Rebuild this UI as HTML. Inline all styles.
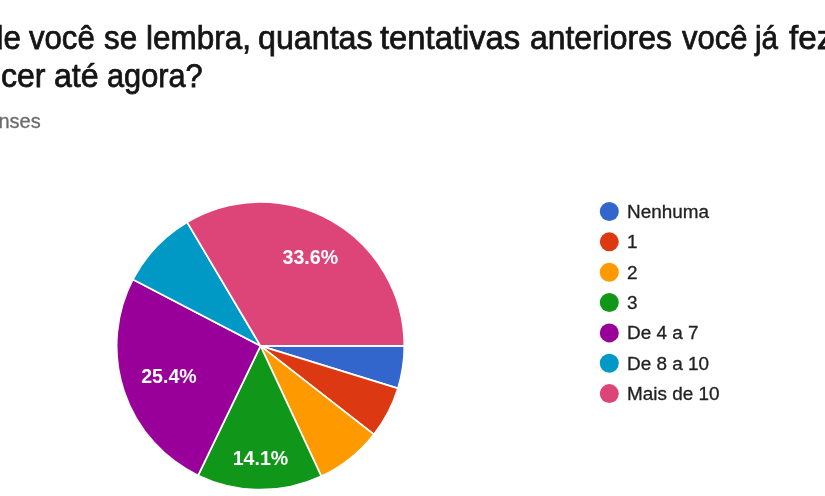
<!DOCTYPE html>
<html><head><meta charset="utf-8"><title>chart</title>
<style>
html,body{margin:0;padding:0;background:#fff;}
body{width:825px;height:496px;overflow:hidden;position:relative;font-family:"Liberation Sans",sans-serif;}
.t{position:absolute;display:block;white-space:nowrap;font-size:32.6px;line-height:32.6px;color:#151515;transform-origin:0 0;-webkit-text-stroke:0.75px #151515;}
.r{position:absolute;white-space:nowrap;font-size:20px;line-height:20px;color:#6c6c6c;-webkit-text-stroke:0.3px #6c6c6c;}
svg{position:absolute;left:0;top:0;}
.lg{font-family:"Liberation Sans",sans-serif;font-size:18.9px;fill:#222222;stroke:#222222;stroke-width:0.3px;}
.pl{font-family:"Liberation Sans",sans-serif;font-size:19.6px;font-weight:bold;fill:#ffffff;text-anchor:middle;}
</style></head><body>
<span class="t" style="left:-14.38px;top:22.10px;transform:scaleX(0.9611)">de</span>
<span class="t" style="left:29.10px;top:22.10px;transform:scaleX(0.9550)">você</span>
<span class="t" style="left:104.11px;top:22.10px;transform:scaleX(0.9632)">se</span>
<span class="t" style="left:145.73px;top:22.10px;transform:scaleX(0.9661)">lembra,</span>
<span class="t" style="left:257.79px;top:22.10px;transform:scaleX(0.9888)">quantas</span>
<span class="t" style="left:380.40px;top:22.10px;transform:scaleX(1.0056)">tentativas</span>
<span class="t" style="left:529.60px;top:22.10px;transform:scaleX(0.9795)">anteriores</span>
<span class="t" style="left:681.50px;top:22.10px;transform:scaleX(0.9520)">você</span>
<span class="t" style="left:754.92px;top:22.10px;transform:scaleX(0.9061)">já</span>
<span class="t" style="left:788.60px;top:22.10px;transform:scaleX(1.0224)">fez</span>
<span class="t" style="left:1.40px;top:59.90px;transform:scaleX(0.9839)">cer</span>
<span class="t" style="left:54.19px;top:59.90px;transform:scaleX(0.9865)">até</span>
<span class="t" style="left:106.94px;top:59.90px;transform:scaleX(0.9430)">agora?</span>
<span class="r" id="rs" style="left:-1.5px;top:111.1px;">nses</span>
<svg width="825" height="496" viewBox="0 0 825 496">
<path d="M260.5,345.85L404.35,345.85A143.85,143.85,0,0,1,397.92,388.39Z" fill="#3366CC" stroke="#ffffff" stroke-width="1.7"/>
<path d="M260.5,345.85L397.92,388.39A143.85,143.85,0,0,1,373.86,434.41Z" fill="#DC3912" stroke="#ffffff" stroke-width="1.7"/>
<path d="M260.5,345.85L373.86,434.41A143.85,143.85,0,0,1,321.29,476.22Z" fill="#FF9900" stroke="#ffffff" stroke-width="1.7"/>
<path d="M260.5,345.85L321.29,476.22A143.85,143.85,0,0,1,198.12,475.47Z" fill="#109618" stroke="#ffffff" stroke-width="1.7"/>
<path d="M260.5,345.85L198.12,475.47A143.85,143.85,0,0,1,132.90,279.43Z" fill="#990099" stroke="#ffffff" stroke-width="1.7"/>
<path d="M260.5,345.85L132.90,279.43A143.85,143.85,0,0,1,187.06,222.16Z" fill="#0099C6" stroke="#ffffff" stroke-width="1.7"/>
<path d="M260.5,345.85L187.06,222.16A143.85,143.85,0,0,1,404.35,345.85Z" fill="#DD4477" stroke="#ffffff" stroke-width="1.7"/>
<text x="310.3" y="264" class="pl">33.6%</text>
<text x="169" y="383" class="pl">25.4%</text>
<text x="260.5" y="465.2" class="pl">14.1%</text>
<circle cx="609.3" cy="211.50" r="9.5" fill="#3366CC"/>
<text x="627" y="217.90" class="lg">Nenhuma</text>
<circle cx="609.3" cy="241.85" r="9.5" fill="#DC3912"/>
<text x="627" y="248.25" class="lg">1</text>
<circle cx="609.3" cy="272.20" r="9.5" fill="#FF9900"/>
<text x="627" y="278.60" class="lg">2</text>
<circle cx="609.3" cy="302.55" r="9.5" fill="#109618"/>
<text x="627" y="308.95" class="lg">3</text>
<circle cx="609.3" cy="332.90" r="9.5" fill="#990099"/>
<text x="627" y="339.30" class="lg">De 4 a 7</text>
<circle cx="609.3" cy="363.25" r="9.5" fill="#0099C6"/>
<text x="627" y="369.65" class="lg">De 8 a 10</text>
<circle cx="609.3" cy="393.60" r="9.5" fill="#DD4477"/>
<text x="627" y="400.00" class="lg">Mais de 10</text>
</svg>
</body></html>
